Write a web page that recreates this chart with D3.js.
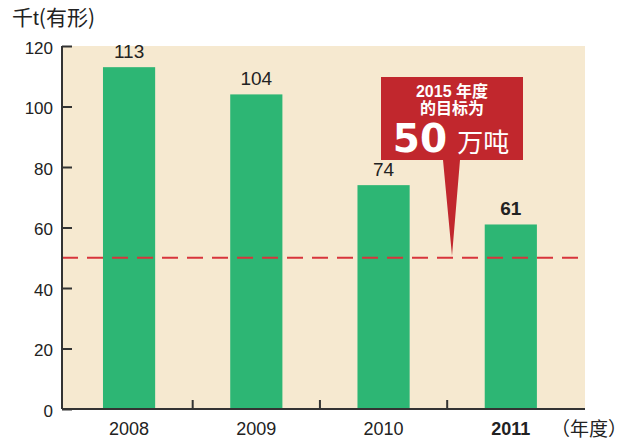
<!DOCTYPE html>
<html>
<head>
<meta charset="utf-8">
<script src="https://cdn.jsdelivr.net/npm/d3@7"></script>
<style>
  body { margin: 0; background: #fff; }
  text { font-family: "Liberation Sans", Arial, "Noto Sans CJK SC", sans-serif; }
</style>
</head>
<body>
<div id="chart"></div>
<script>
const years = ['2008', '2009', '2010', '2011'];
const values = [113, 104, 74, 61];
const yTicks = [0, 20, 40, 60, 80, 100, 120];
const target = 50;
const calloutLines = ['2015 年度', '的目标为'];
const calloutBig = ['50', '万吨'];

const W = 628, H = 441;
const margin = { top: 46, right: 43, bottom: 32, left: 62 };
const width = W - margin.left - margin.right;
const height = H - margin.top - margin.bottom;

const svg = d3.select('#chart').append('svg')
  .attr('width', W).attr('height', H);
const g = svg.append('g').attr('transform', `translate(${margin.left},${margin.top})`);

const x = d3.scaleBand().domain(years).range([0, width])
  .paddingInner(0.59).paddingOuter(0.35).align(0.46);
const y = d3.scaleLinear().domain([0, 120]).range([height, 0]);

// panel background
g.append('rect').attr('x', 0).attr('y', 0).attr('width', width).attr('height', height)
  .attr('fill', '#f6e9d0');

// unit label
const unit = svg.append('text').attr('x', 12).attr('y', 25)
  .attr('font-size', 21).attr('fill', '#222')
  .style('font-family', '"Noto Sans CJK SC", sans-serif');
unit.append('tspan').text('千');
unit.append('tspan').style('font-family', '"Liberation Sans", Arial, sans-serif').text('t');
unit.append('tspan').text('(有形)');

// bars
g.selectAll('rect.bar').data(values).join('rect')
  .attr('class', 'bar')
  .attr('x', (d, i) => x(years[i]))
  .attr('y', d => y(d))
  .attr('width', x.bandwidth())
  .attr('height', d => height - y(d))
  .attr('fill', '#2db674');

// value labels
g.selectAll('text.val').data(values).join('text')
  .attr('class', 'val')
  .attr('x', (d, i) => x(years[i]) + x.bandwidth() / 2)
  .attr('y', d => y(d) - 9)
  .attr('text-anchor', 'middle')
  .attr('font-size', 19)
  .attr('font-weight', (d, i) => i === 3 ? 'bold' : 'normal')
  .attr('fill', '#222')
  .text(d => d);

// target dashed line
g.append('line')
  .attr('x1', 0).attr('x2', width)
  .attr('y1', y(target)).attr('y2', y(target))
  .attr('stroke', '#d8343b').attr('stroke-width', 2)
  .attr('stroke-dasharray', '16,9');

// y axis
const yAxis = g.append('g')
  .call(d3.axisLeft(y).tickValues(yTicks).tickSize(-10).tickPadding(9));
yAxis.select('.domain').attr('stroke', '#333').attr('stroke-width', 2).attr('d', `M0,0V${height}`);
yAxis.selectAll('.tick line').attr('stroke', '#333').attr('stroke-width', 2);
yAxis.selectAll('.tick text').attr('font-size', 17).attr('fill', '#222').attr('dy', '0.42em')
  .style('font-family', '"Liberation Sans", Arial, sans-serif');

// x axis
g.append('line').attr('x1', 0).attr('x2', width).attr('y1', height).attr('y2', height)
  .attr('stroke', '#333').attr('stroke-width', 2);
const step = x.step();
g.selectAll('line.sep').data(years.slice(1)).join('line')
  .attr('class', 'sep')
  .attr('x1', d => x(d) - step * x.paddingInner() / 2)
  .attr('x2', d => x(d) - step * x.paddingInner() / 2)
  .attr('y1', height).attr('y2', height - 9)
  .attr('stroke', '#333').attr('stroke-width', 2);
g.selectAll('text.year').data(years).join('text')
  .attr('class', 'year')
  .attr('x', d => x(d) + x.bandwidth() / 2)
  .attr('y', height + 26)
  .attr('text-anchor', 'middle')
  .attr('font-size', 18)
  .attr('font-weight', (d, i) => i === 3 ? 'bold' : 'normal')
  .attr('fill', '#222')
  .text(d => d);
svg.append('text').attr('x', 551).attr('y', H - 5)
  .attr('font-size', 19).attr('fill', '#222')
  .style('font-family', '"Noto Sans CJK SC", sans-serif')
  .text('（年度）');

// callout
const boxL = 381 - margin.left, boxR = 523 - margin.left, boxT = 77 - margin.top, boxB = 160 - margin.top;
const mid = (boxL + boxR) / 2;
g.append('path')
  .attr('d', `M${boxL},${boxT}H${boxR}V${boxB}H${mid + 8}L${mid},${y(target) - 2}L${mid - 9},${boxB}H${boxL}Z`)
  .attr('fill', '#c1272d');
g.selectAll('text.cl').data(calloutLines).join('text')
  .attr('class', 'cl')
  .attr('x', mid)
  .attr('y', (d, i) => boxT + 20 + i * 17)
  .attr('text-anchor', 'middle')
  .attr('font-size', 16).attr('font-weight', 'bold').attr('fill', '#fff')
  .style('font-family', '"Liberation Sans", Arial, "Noto Sans CJK SC", sans-serif')
  .text(d => d);
const big = g.append('text').attr('x', mid - 1).attr('y', boxT + 75)
  .attr('text-anchor', 'middle').attr('fill', '#fff');
big.append('tspan').attr('font-size', 39).attr('font-weight', 'bold')
  .style('font-family', '"DejaVu Sans", sans-serif').text(calloutBig[0]);
big.append('tspan').attr('font-size', 26).attr('dx', 10)
  .style('font-family', '"Noto Sans CJK SC", sans-serif').text(calloutBig[1]);
</script>
</body>
</html>
